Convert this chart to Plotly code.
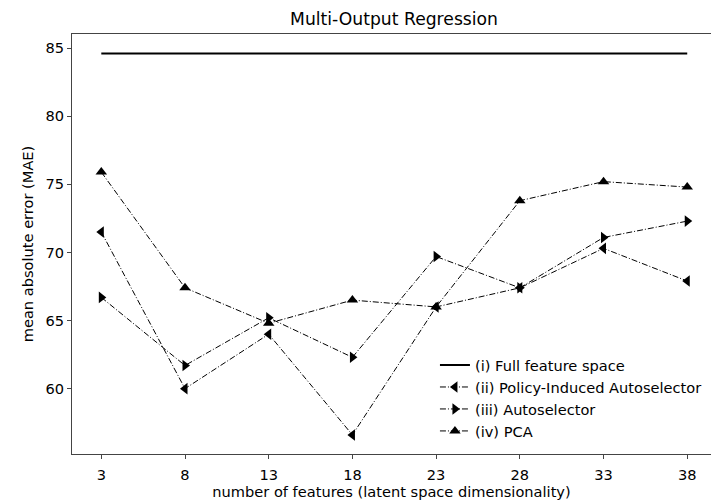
import plotly.graph_objects as go

# Latent space sizes evaluated
n_features = [3, 8, 13, 18, 23, 28, 33, 38]

# Mean absolute error for each approach
mae_full = [84.6, 84.6, 84.6, 84.6, 84.6, 84.6, 84.6, 84.6]
mae_policy = [71.5, 60.0, 64.0, 56.6, 66.0, 67.4, 70.3, 67.9]
mae_autoselector = [66.7, 61.7, 65.2, 62.3, 69.7, 67.4, 71.1, 72.3]
mae_pca = [75.9, 67.4, 64.8, 66.5, 66.0, 73.8, 75.2, 74.8]

tick_vals_x = n_features
tick_vals_y = [60, 65, 70, 75, 80, 85]

FONT = "DejaVu Sans"
FS = 14.6
DASHDOT = "6px,2px,1px,2px"

fig = go.Figure()

fig.add_trace(go.Scatter(
    x=n_features, y=mae_full, mode="lines",
    name="(i) Full feature space",
    line=dict(color="black", width=2),
))
fig.add_trace(go.Scatter(
    x=n_features, y=mae_policy, mode="lines+markers",
    name="(ii) Policy-Induced Autoselector",
    line=dict(color="black", width=1, dash=DASHDOT),
    marker=dict(symbol="triangle-left", size=10, color="black"),
))
fig.add_trace(go.Scatter(
    x=n_features, y=mae_autoselector, mode="lines+markers",
    name="(iii) Autoselector",
    line=dict(color="black", width=1, dash=DASHDOT),
    marker=dict(symbol="triangle-right", size=10, color="black"),
))
fig.add_trace(go.Scatter(
    x=n_features, y=mae_pca, mode="lines+markers",
    name="(iv) PCA",
    line=dict(color="black", width=1, dash=DASHDOT),
    marker=dict(symbol="triangle-up", size=10, color="black"),
))

fig.update_layout(
    width=711, height=500,
    margin=dict(l=72, r=0, t=34, b=46),
    paper_bgcolor="white", plot_bgcolor="white",
    font=dict(family=FONT, size=FS, color="black"),
    title=dict(text="Multi-Output Regression", x=0.504, xref="paper",
               xanchor="center", y=0.962, yanchor="middle",
               font=dict(family=FONT, size=17.2, color="black")),
    legend=dict(x=0.568, y=0.25, xanchor="left", yanchor="top",
                bgcolor="rgba(0,0,0,0)", borderwidth=0,
                font=dict(family=FONT, size=FS, color="black"),
                itemwidth=30),
    showlegend=True,
)

fig.update_xaxes(
    range=[1.25, 39.42], tickvals=tick_vals_x,
    showgrid=False, zeroline=False,
    showline=True, linecolor="#444", linewidth=1.2, mirror=True,
    ticks="outside", ticklen=4, tickcolor="#444", ticklabelstandoff=3,
    tickfont=dict(family=FONT, size=FS),
    title=dict(text="number of features (latent space dimensionality)",
               font=dict(family=FONT, size=FS), standoff=8),
)
fig.update_yaxes(
    range=[55.2, 86.04], tickvals=tick_vals_y,
    showgrid=False, zeroline=False,
    showline=True, linecolor="#444", linewidth=1.2, mirror=False,
    ticks="outside", ticklen=4, tickcolor="#444",
    tickfont=dict(family=FONT, size=FS),
    title=dict(text="mean absolute error (MAE)",
               font=dict(family=FONT, size=FS), standoff=8),
)

fig.write_html("out.html")
